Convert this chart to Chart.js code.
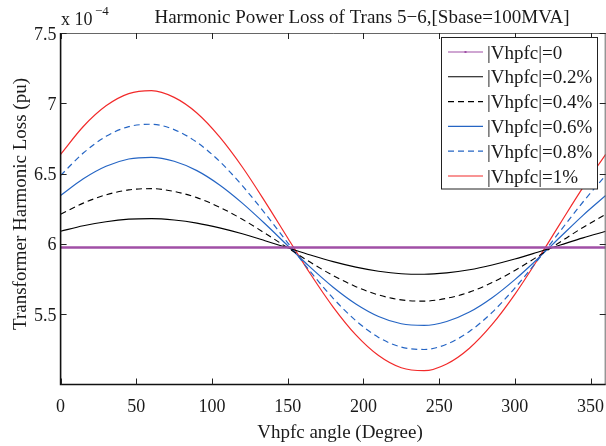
<!DOCTYPE html>
<html>
<head>
<meta charset="utf-8">
<script src="https://cdn.jsdelivr.net/npm/chart.js@4.4.1/dist/chart.umd.min.js"></script>
<style>
  html, body { margin: 0; padding: 0; background: #fff; }
  #grafico { display: block; }
</style>
</head>
<body>
<canvas id="grafico" width="606" height="446"></canvas>
<script>
// Ângulo do Vhpfc (graus)
const angulos = [0, 15, 30, 45, 60, 75, 90, 105, 120, 135, 150, 165, 180,
                 195, 210, 225, 240, 255, 270, 285, 300, 315, 330, 345, 360];

// Perdas harmónicas (x 10^-4 pu) para cada |Vhpfc|
const perdas0   = [5.974, 5.974, 5.974, 5.974, 5.974, 5.974, 5.974, 5.974, 5.974, 5.974, 5.974, 5.974, 5.974,
                   5.974, 5.974, 5.974, 5.974, 5.974, 5.974, 5.974, 5.974, 5.974, 5.974, 5.974, 5.974];
const perdas02  = [6.090, 6.129, 6.158, 6.176, 6.180, 6.170, 6.148, 6.114, 6.072, 6.023, 5.972, 5.921, 5.874,
                   5.835, 5.806, 5.788, 5.784, 5.794, 5.816, 5.850, 5.892, 5.941, 5.992, 6.043, 6.090];
const perdas04  = [6.211, 6.290, 6.349, 6.384, 6.393, 6.373, 6.329, 6.261, 6.175, 6.076, 5.972, 5.869, 5.775,
                   5.696, 5.637, 5.602, 5.593, 5.613, 5.657, 5.725, 5.811, 5.910, 6.014, 6.117, 6.211];
const perdas06  = [6.344, 6.463, 6.552, 6.604, 6.616, 6.588, 6.521, 6.419, 6.290, 6.143, 5.987, 5.833, 5.692,
                   5.573, 5.484, 5.432, 5.420, 5.448, 5.515, 5.617, 5.746, 5.893, 6.049, 6.203, 6.344];
const perdas08  = [6.487, 6.646, 6.765, 6.834, 6.851, 6.813, 6.723, 6.587, 6.414, 6.217, 6.008, 5.802, 5.613,
                   5.454, 5.335, 5.266, 5.249, 5.287, 5.377, 5.513, 5.686, 5.883, 6.092, 6.298, 6.487];
const perdas10  = [6.637, 6.835, 6.982, 7.069, 7.090, 7.042, 6.931, 6.761, 6.547, 6.301, 6.042, 5.786, 5.551,
                   5.353, 5.206, 5.119, 5.098, 5.146, 5.258, 5.427, 5.641, 5.887, 6.146, 6.402, 6.637];

const rotulos = ['|Vhpfc|=0', '|Vhpfc|=0.2%', '|Vhpfc|=0.4%', '|Vhpfc|=0.6%', '|Vhpfc|=0.8%', '|Vhpfc|=1%'];
const ticksX = [0, 50, 100, 150, 200, 250, 300, 350];
const ticksY = [5.5, 6, 6.5, 7, 7.5];

const SERIF = "'Liberation Serif', 'Times New Roman', serif";
const COR_TEXTO = '#1a1a1a';

const estilos = [
  { cor: '#a04fa6', largura: 2.6, tracejado: [] },
  { cor: '#000000', largura: 1.1, tracejado: [] },
  { cor: '#000000', largura: 1.1, tracejado: [6, 4] },
  { cor: '#2565c4', largura: 1.2, tracejado: [] },
  { cor: '#2565c4', largura: 1.2, tracejado: [6, 4] },
  { cor: '#f22a2a', largura: 1.2, tracejado: [] }
];

const series = [perdas0, perdas02, perdas04, perdas06, perdas08, perdas10];

const datasets = series.map((valores, i) => ({
  label: rotulos[i],
  data: angulos.map((a, k) => ({ x: a, y: valores[k] })),
  borderColor: estilos[i].cor,
  borderWidth: estilos[i].largura,
  borderDash: estilos[i].tracejado,
  pointRadius: 0,
  fill: false,
  cubicInterpolationMode: 'monotone'
}));

// Moldura, ticks para dentro, rótulos, títulos e legenda à maneira do MATLAB
const extras = {
  id: 'extras',
  afterDatasetsDraw(chart) {
    const ctx = chart.ctx;
    const { left, right, top, bottom } = chart.chartArea;
    const sx = chart.scales.x, sy = chart.scales.y;
    ctx.save();

    // moldura
    ctx.strokeStyle = '#666';
    ctx.lineWidth = 1;
    ctx.beginPath();
    ctx.moveTo(left, top + 0.5); ctx.lineTo(right, top + 0.5);
    ctx.moveTo(right - 0.5, top); ctx.lineTo(right - 0.5, bottom);
    ctx.stroke();
    ctx.strokeStyle = '#111';
    ctx.lineWidth = 1.6;
    ctx.beginPath();
    ctx.moveTo(left, top); ctx.lineTo(left, bottom);
    ctx.lineTo(right, bottom);
    ctx.stroke();

    // ticks
    ctx.strokeStyle = '#222';
    ctx.lineWidth = 1;
    ctx.beginPath();
    ticksX.forEach(v => {
      const px = Math.round(sx.getPixelForValue(v)) + 0.5;
      ctx.moveTo(px, bottom); ctx.lineTo(px, bottom - 6);
      ctx.moveTo(px, top); ctx.lineTo(px, top + 6);
    });
    ticksY.forEach(v => {
      const py = Math.round(sy.getPixelForValue(v)) + 0.5;
      ctx.moveTo(left, py); ctx.lineTo(left + 6, py);
      ctx.moveTo(right, py); ctx.lineTo(right - 6, py);
    });
    ctx.stroke();

    // rótulos dos ticks
    ctx.fillStyle = COR_TEXTO;
    ctx.font = '18px ' + SERIF;
    ctx.textBaseline = 'alphabetic';
    ctx.textAlign = 'center';
    ticksX.forEach(v => ctx.fillText(String(v), sx.getPixelForValue(v), bottom + 27));
    ctx.textAlign = 'right';
    ticksY.forEach(v => ctx.fillText(String(v), left - 4, sy.getPixelForValue(v) + 6.5));

    // título
    ctx.font = '19px ' + SERIF;
    ctx.textAlign = 'center';
    ctx.fillText('Harmonic Power Loss of Trans 5\u22126,[Sbase=100MVA]', 362, 23);

    // eixo x
    ctx.fillText('Vhpfc angle (Degree)', 340, 438);

    // eixo y
    ctx.save();
    ctx.translate(26, 204);
    ctx.rotate(-Math.PI / 2);
    ctx.fillText('Transformer Harmonic Loss (pu)', 0, 0);
    ctx.restore();

    // expoente
    ctx.textAlign = 'left';
    ctx.font = '18px ' + SERIF;
    ctx.fillText('x 10', 61, 25);
    ctx.font = '13px ' + SERIF;
    ctx.fillText('\u22124', 95, 15);

    // legenda
    const lx = 441.5, ly = 37.5, lw = 156, lh = 151.5;
    ctx.fillStyle = '#fff';
    ctx.fillRect(lx, ly, lw, lh);
    ctx.strokeStyle = '#222';
    ctx.lineWidth = 1;
    ctx.strokeRect(lx, ly, lw, lh);
    ctx.font = '19px ' + SERIF;
    rotulos.forEach((txt, i) => {
      const yc = 52 + i * 24.8;
      const e = estilos[i];
      ctx.strokeStyle = e.cor;
      ctx.lineWidth = i === 0 ? 1.2 : e.largura;
      ctx.setLineDash(e.tracejado);
      ctx.beginPath();
      ctx.moveTo(448, yc); ctx.lineTo(483, yc);
      ctx.stroke();
      ctx.setLineDash([]);
      if (i === 0) {
        ctx.fillStyle = e.cor;
        ctx.fillRect(464.5, yc - 1, 2, 2);
      }
      ctx.fillStyle = COR_TEXTO;
      ctx.fillText(txt, 487, yc + 6.5);
    });

    ctx.restore();
  }
};

new Chart(document.getElementById('grafico'), {
  type: 'line',
  data: { datasets },
  options: {
    responsive: false,
    animation: false,
    devicePixelRatio: 1,
    layout: { padding: { left: 0, top: 33, right: 0.3, bottom: 0 } },
    plugins: { legend: { display: false }, tooltip: { enabled: false }, title: { display: false } },
    scales: {
      x: {
        type: 'linear', min: 0, max: 360,
        grid: { display: false, drawTicks: false },
        border: { display: false },
        ticks: { display: false },
        afterBuildTicks: s => { s.ticks = ticksX.map(v => ({ value: v })); },
        afterFit: s => { s.height = 61.5; s.paddingLeft = 0; s.paddingRight = 0; }
      },
      y: {
        min: 5, max: 7.5,
        grid: { display: false, drawTicks: false },
        border: { display: false },
        ticks: { display: false },
        afterBuildTicks: s => { s.ticks = ticksY.map(v => ({ value: v })); },
        afterFit: s => { s.width = 60.6; s.paddingTop = 0; s.paddingBottom = 0; }
      }
    }
  },
  plugins: [extras]
});
</script>
</body>
</html>
